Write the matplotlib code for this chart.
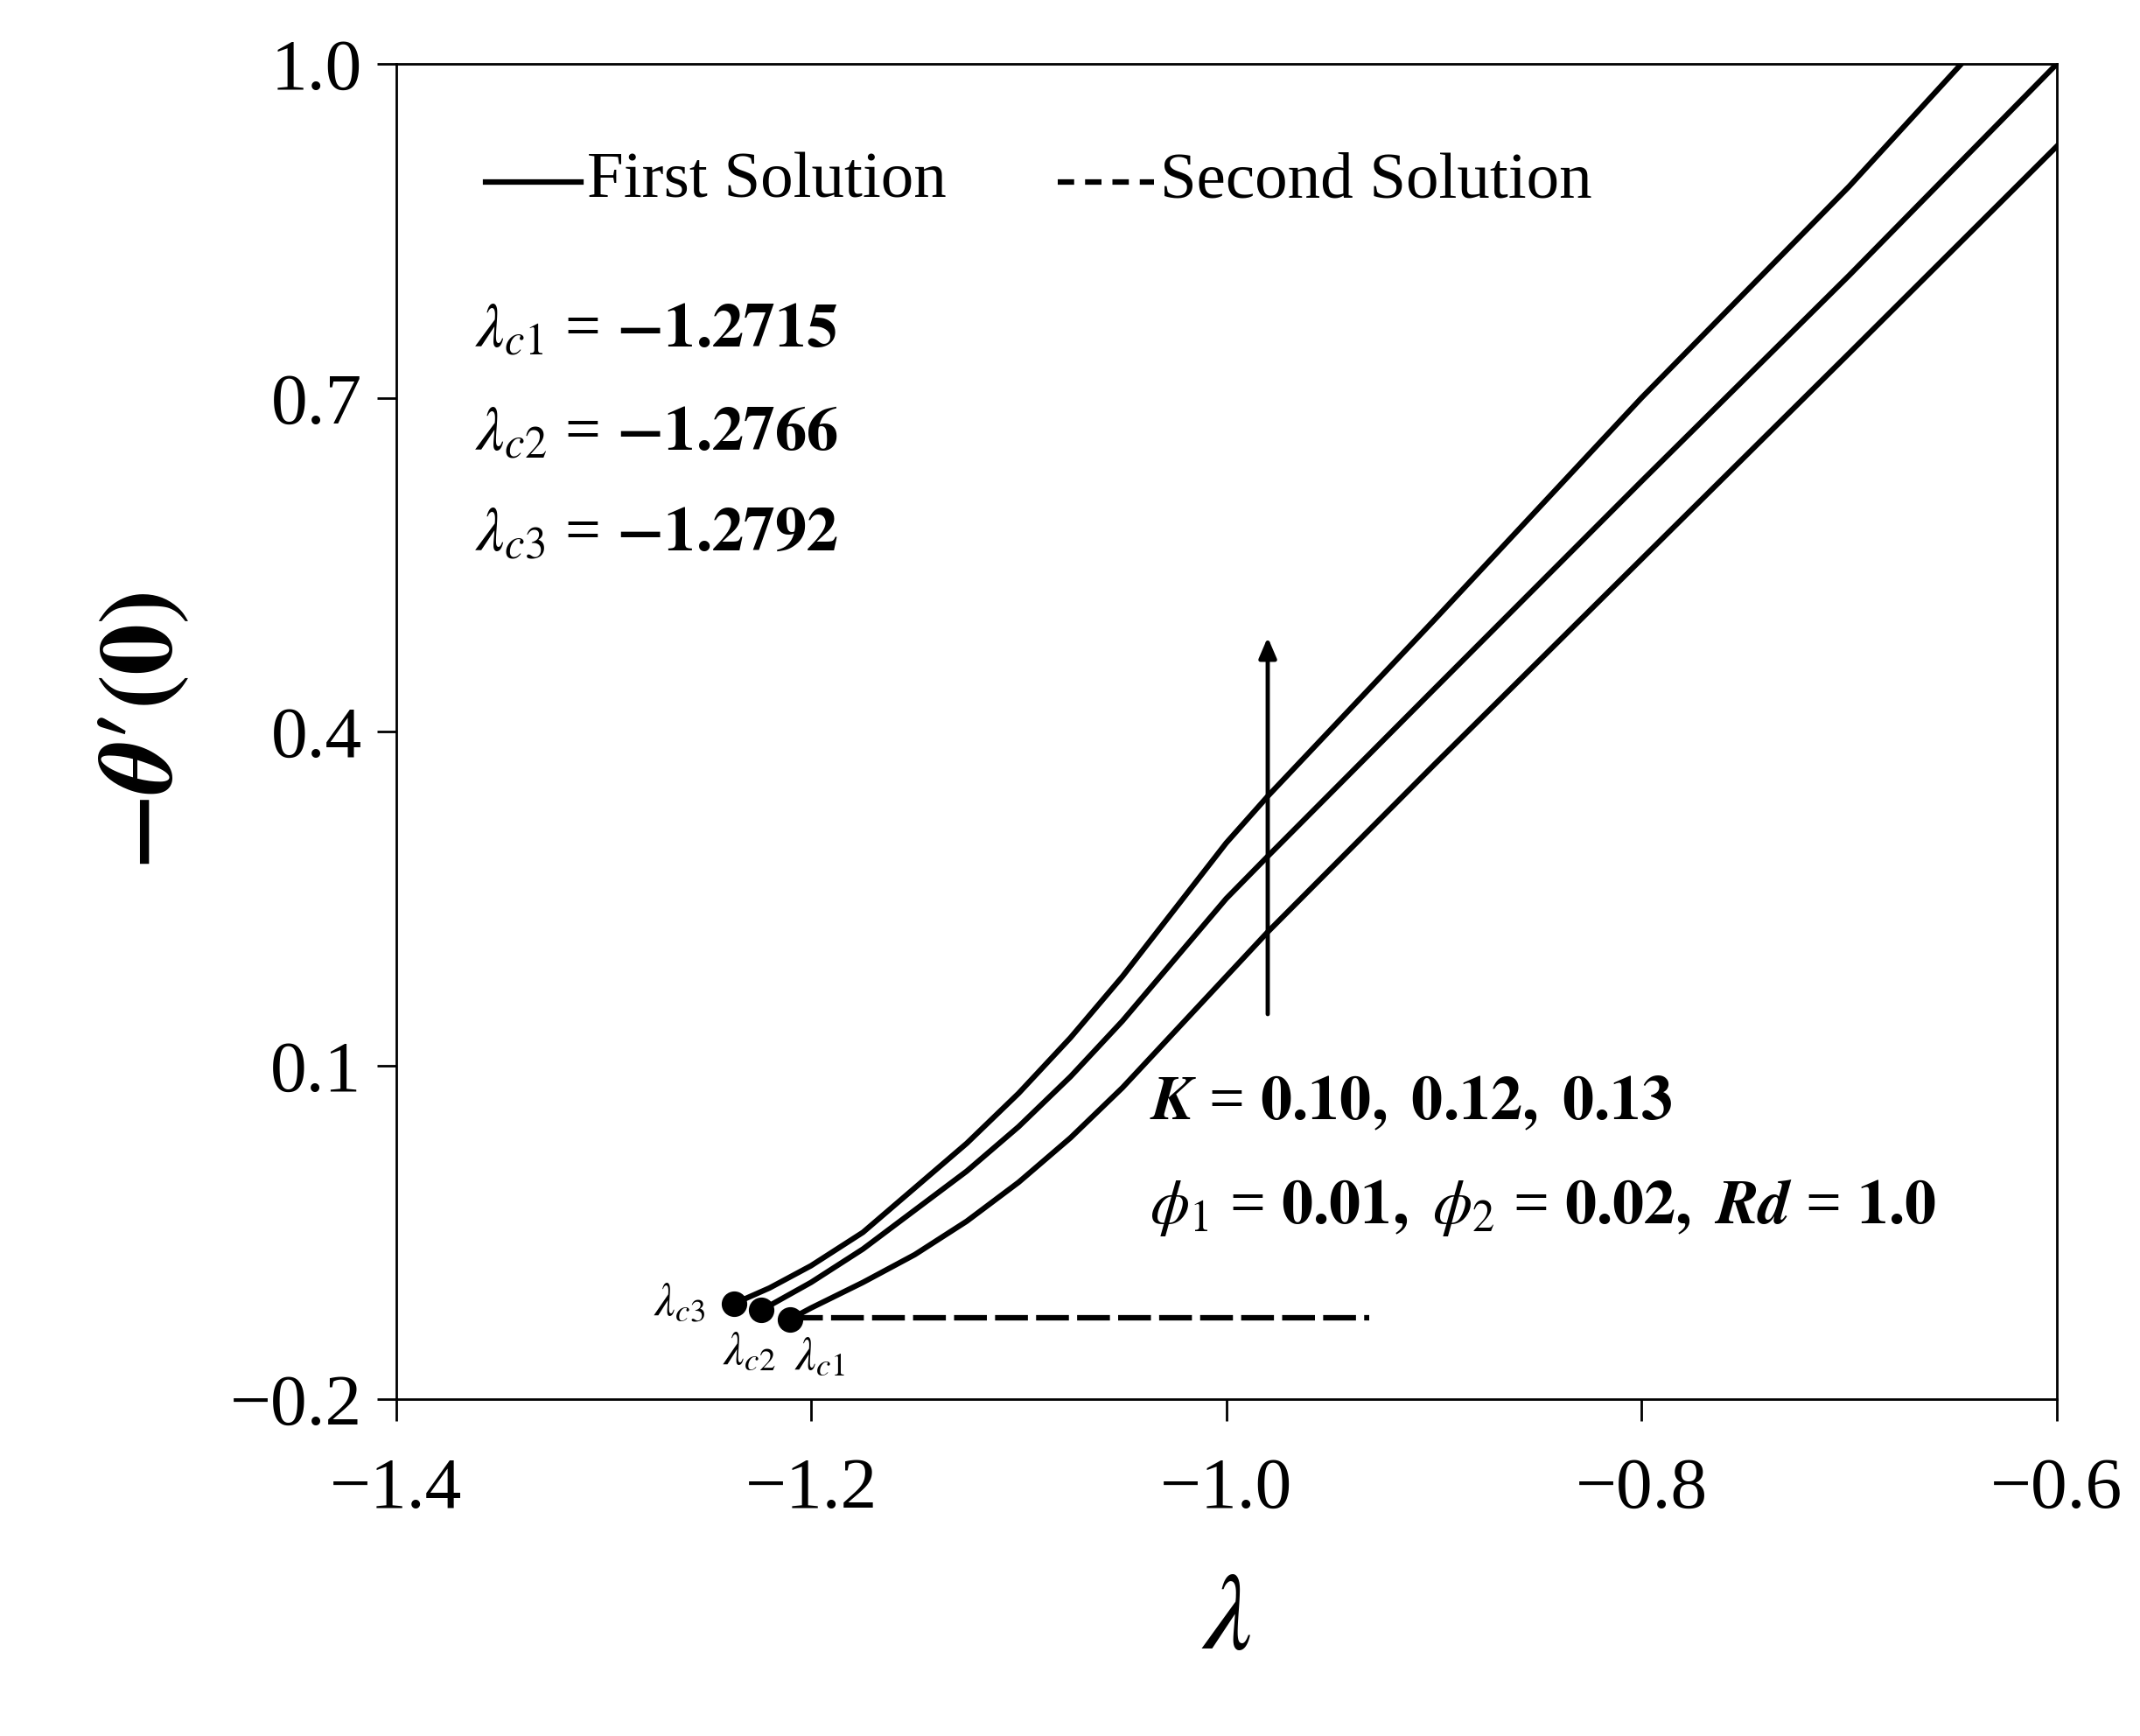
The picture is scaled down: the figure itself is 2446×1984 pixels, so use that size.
import matplotlib.pyplot as plt

plt.rcParams['font.family'] = ['Liberation Serif', 'DejaVu Serif']
plt.rcParams['mathtext.fontset'] = 'stix'

# first solution branches (K = 0.10, 0.12, 0.13)
x_top = [-1.237, -1.22, -1.2, -1.175, -1.15, -1.125, -1.1, -1.075, -1.05, -1.025, -1.0, -0.98, -0.9, -0.8, -0.7, -0.646]
y_top = [-0.114, -0.100, -0.080, -0.050, -0.010, 0.030, 0.075, 0.125, 0.180, 0.240, 0.300, 0.342, 0.50, 0.70, 0.89, 1.0]
x_mid = [-1.224, -1.2, -1.175, -1.15, -1.125, -1.1, -1.075, -1.05, -1.025, -1.0, -0.98, -0.9, -0.8, -0.7, -0.6]
y_mid = [-0.120, -0.095, -0.065, -0.030, 0.005, 0.045, 0.090, 0.140, 0.195, 0.250, 0.288, 0.438, 0.625, 0.81, 1.0]
x_bot = [-1.21, -1.2, -1.175, -1.15, -1.125, -1.1, -1.075, -1.05, -1.025, -1.0, -0.98, -0.9, -0.8, -0.7, -0.6]
y_bot = [-0.128, -0.118, -0.095, -0.070, -0.040, -0.005, 0.035, 0.080, 0.130, 0.180, 0.22, 0.37, 0.555, 0.74, 0.926]

# second solution
x_sec = [-1.21, -0.931]
y_sec = [-0.127, -0.127]

# critical points
lam_c = [-1.210, -1.224, -1.237]
theta_c = [-0.128, -0.120, -0.114]

fig = plt.figure(figsize=(24.46, 19.84), dpi=100)
ax = fig.add_axes([0.185, 0.194, 0.776, 0.769])

for xs, ys in [(x_top, y_top), (x_mid, y_mid), (x_bot, y_bot)]:
    ax.plot(xs, ys, color='black', lw=4.5)
ax.plot(x_sec, y_sec, color='black', lw=4.5, ls=(0, (6, 1.5)))
ax.plot(lam_c, theta_c, 'o', color='black', ms=20)

ax.set_xlim(-1.4, -0.6)
ax.set_ylim(-0.2, 1.0)
ax.set_xticks([-1.4, -1.2, -1.0, -0.8, -0.6])
ax.set_xticklabels(['\u22121.4', '\u22121.2', '\u22121.0', '\u22120.8', '\u22120.6'])
ax.set_yticks([-0.2, 0.1, 0.4, 0.7, 1.0])
ax.set_yticklabels(['\u22120.2', '0.1', '0.4', '0.7', '1.0'])
ax.tick_params(axis='x', labelsize=60, length=18, width=2, pad=30, direction='out')
ax.tick_params(axis='y', labelsize=60, length=16, width=2, pad=12, direction='out')
for s in ax.spines.values():
    s.set_linewidth(2)

ax.set_xlabel(r'$\lambda$', fontsize=90, labelpad=40)
ax.set_ylabel(r"$\boldsymbol{-\theta\prime(0)}$", fontsize=85, labelpad=30)

# legend drawn by hand
ax.plot([-1.357, -1.311], [0.894, 0.894], color='black', lw=4.5)
ax.text(-1.308, 0.894, 'First Solution', fontsize=54, va='center')
ax.plot([-1.081, -1.035], [0.894, 0.894], color='black', lw=4.5, ls=(0, (3, 2)))
ax.text(-1.032, 0.894, 'Second Solution', fontsize=54, va='center')

ax.text(-1.362, 0.76, r'$\lambda_{c1}$ = $\mathbf{-1.2715}$', fontsize=52, va='center')
ax.text(-1.362, 0.667, r'$\lambda_{c2}$ = $\mathbf{-1.2766}$', fontsize=52, va='center')
ax.text(-1.362, 0.577, r'$\lambda_{c3}$ = $\mathbf{-1.2792}$', fontsize=52, va='center')

ax.text(-1.037, 0.066, r'$\boldsymbol{K}$ = $\mathbf{0.10,\ 0.12,\ 0.13}$', fontsize=52, va='center')
ax.text(-1.037, -0.028, r'$\boldsymbol{\phi_1}$ = $\mathbf{0.01,}$ $\boldsymbol{\phi_2}$ = $\mathbf{0.02,}$ $\boldsymbol{Rd}$ = $\mathbf{1.0}$',
        fontsize=52, va='center')

ax.annotate('', xy=(-0.98, 0.487), xytext=(-0.98, 0.144),
            arrowprops=dict(arrowstyle='-|>,head_width=0.6,head_length=1.4', color='black', lw=3.5))

ax.text(-1.251, -0.114, r'$\lambda_{c3}$', fontsize=38, ha='right', va='center')
ax.text(-1.23, -0.158, r'$\lambda_{c2}$', fontsize=38, ha='center', va='center')
ax.text(-1.196, -0.163, r'$\lambda_{c1}$', fontsize=38, ha='center', va='center')

fig.savefig('out.png', dpi=100)
